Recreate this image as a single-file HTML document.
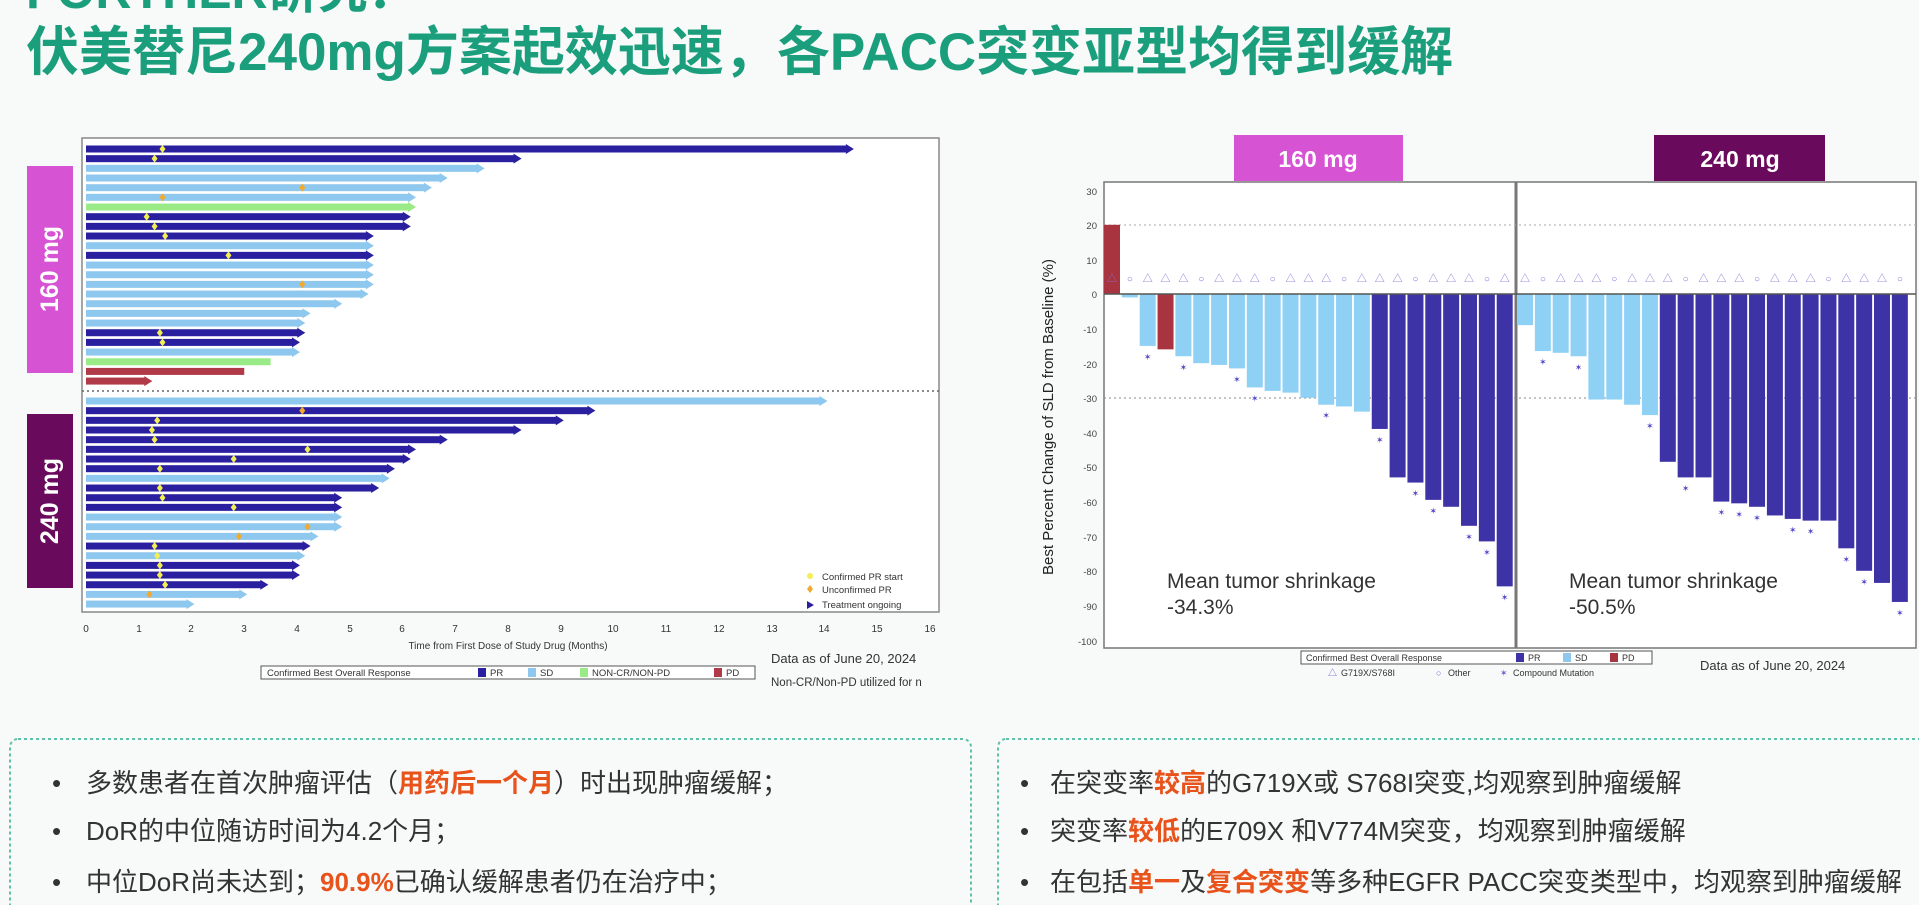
<!DOCTYPE html>
<html><head><meta charset="utf-8"><style>
body{margin:0;width:1919px;height:905px;overflow:hidden;background:#f8f9f9;font-family:"Liberation Sans","Noto Sans CJK SC",sans-serif;}
svg{position:absolute;left:0;top:0}
.t{font-family:"Liberation Sans","Noto Sans CJK SC",sans-serif}
</style></head><body>
<svg width="1919" height="905" viewBox="0 0 1919 905" xmlns="http://www.w3.org/2000/svg">
<text x="26" y="8" class="t" font-size="50" font-weight="bold" fill="#1a9e7c">FORTHER研究：</text>
<text x="26" y="70" class="t" font-size="53" font-weight="bold" fill="#1a9e7c">伏美替尼240mg方案起效迅速，各PACC突变亚型均得到缓解</text>

<!-- left chart -->
<rect x="82" y="138" width="857" height="474" fill="#fff" stroke="#888" stroke-width="1.5"/>
<rect x="27" y="166" width="46" height="207" fill="#d653d3"/>
<text transform="translate(58,269) rotate(-90)" text-anchor="middle" class="t" font-size="25" font-weight="bold" fill="#fff">160 mg</text>
<rect x="27" y="414" width="46" height="174" fill="#6a0a5c"/>
<text transform="translate(58,501) rotate(-90)" text-anchor="middle" class="t" font-size="25" font-weight="bold" fill="#fff">240 mg</text>
<line x1="82" y1="391" x2="939" y2="391" stroke="#666" stroke-dasharray="2,3" stroke-width="1.5"/>
<g id="lbars"></g>
<g font-size="10" fill="#333" class="t" text-anchor="middle">
<text x="86" y="632">0</text><text x="139" y="632">1</text><text x="191" y="632">2</text><text x="244" y="632">3</text><text x="297" y="632">4</text><text x="350" y="632">5</text><text x="402" y="632">6</text><text x="455" y="632">7</text><text x="508" y="632">8</text><text x="561" y="632">9</text><text x="613" y="632">10</text><text x="666" y="632">11</text><text x="719" y="632">12</text><text x="772" y="632">13</text><text x="824" y="632">14</text><text x="877" y="632">15</text><text x="930" y="632">16</text>
<text x="508" y="649">Time from First Dose of Study Drug (Months)</text>
</g>
<g font-size="9.5" fill="#333" class="t">
<circle cx="810" cy="576" r="3" fill="#f2ef55"/><text x="822" y="580">Confirmed PR start</text>
<path d="M810 585 l3 4 l-3 4 l-3 -4z" fill="#f2a92c"/><text x="822" y="593">Unconfirmed PR</text>
<path d="M807 601 l7 4 l-7 4z" fill="#2a1f9e"/><text x="822" y="608">Treatment ongoing</text>
</g>
<rect x="261" y="666" width="494" height="13" fill="#fff" stroke="#555"/>
<g font-size="9.5" fill="#333" class="t">
<text x="267" y="676">Confirmed Best Overall Response</text>
<rect x="478" y="668" width="8" height="9" fill="#2a1f9e"/><text x="490" y="676">PR</text>
<rect x="528" y="668" width="8" height="9" fill="#8fc8ee"/><text x="540" y="676">SD</text>
<rect x="580" y="668" width="8" height="9" fill="#9aeb88"/><text x="592" y="676">NON-CR/NON-PD</text>
<rect x="714" y="668" width="8" height="9" fill="#b03a48"/><text x="726" y="676">PD</text>
</g>
<text x="771" y="663" class="t" font-size="13" fill="#333">Data as of June 20, 2024</text>
<text x="771" y="686" class="t" font-size="11.5" fill="#333">Non-CR/Non-PD utilized for n</text>

<!-- right chart -->
<rect x="1234" y="135" width="169" height="46" fill="#d653d3"/>
<text x="1318" y="167" text-anchor="middle" class="t" font-size="23" font-weight="bold" fill="#fff">160 mg</text>
<rect x="1654" y="135" width="171" height="46" fill="#6a0a5c"/>
<text x="1740" y="167" text-anchor="middle" class="t" font-size="23" font-weight="bold" fill="#fff">240 mg</text>
<rect x="1104" y="182" width="812" height="466" fill="#fff" stroke="#777" stroke-width="1.5"/>
<line x1="1516" y1="182" x2="1516" y2="648" stroke="#777" stroke-width="3"/>
<line x1="1104" y1="225" x2="1916" y2="225" stroke="#aaa" stroke-dasharray="2,3"/>
<line x1="1104" y1="398" x2="1916" y2="398" stroke="#888" stroke-dasharray="2,3"/>
<g id="rbars"></g>
<line x1="1104" y1="294" x2="1916" y2="294" stroke="#555" stroke-width="1.5"/>
<g font-size="9.5" fill="#444" class="t" text-anchor="end">
<text x="1097" y="195">30</text><text x="1097" y="229">20</text><text x="1097" y="264">10</text><text x="1097" y="298">0</text><text x="1097" y="333">-10</text><text x="1097" y="368">-20</text><text x="1097" y="402">-30</text><text x="1097" y="437">-40</text><text x="1097" y="471">-50</text><text x="1097" y="506">-60</text><text x="1097" y="541">-70</text><text x="1097" y="575">-80</text><text x="1097" y="610">-90</text><text x="1097" y="645">-100</text>
</g>
<text transform="translate(1053,417) rotate(-90)" text-anchor="middle" class="t" font-size="15" fill="#222">Best Percent Change of SLD from Baseline (%)</text>
<text x="1167" y="588" class="t" font-size="21" fill="#333">Mean tumor shrinkage</text>
<text x="1167" y="614" class="t" font-size="21" fill="#333">-34.3%</text>
<text x="1569" y="588" class="t" font-size="21" fill="#333">Mean tumor shrinkage</text>
<text x="1569" y="614" class="t" font-size="21" fill="#333">-50.5%</text>
<rect x="1301" y="651" width="351" height="13" fill="#fff" stroke="#555"/>
<g font-size="9" fill="#333" class="t">
<text x="1306" y="661">Confirmed Best Overall Response</text>
<rect x="1516" y="653" width="8" height="9" fill="#3d32a6"/><text x="1528" y="661">PR</text>
<rect x="1563" y="653" width="8" height="9" fill="#8fc8ee"/><text x="1575" y="661">SD</text>
<rect x="1610" y="653" width="8" height="9" fill="#a83440"/><text x="1622" y="661">PD</text>
<text x="1328" y="676" fill="#6a5ccf">△</text><text x="1341" y="676">G719X/S768I</text>
<text x="1436" y="676" fill="#6a5ccf">○</text><text x="1448" y="676">Other</text>
<text x="1500" y="676" fill="#6a5ccf">✶</text><text x="1513" y="676">Compound Mutation</text>
</g>
<text x="1700" y="670" class="t" font-size="13" fill="#333">Data as of June 20, 2024</text>

<!-- bottom boxes -->
<rect x="10" y="739" width="961" height="200" rx="8" fill="none" stroke="#5fbfa8" stroke-width="2" stroke-dasharray="3,3"/>
<rect x="998" y="739" width="940" height="200" rx="8" fill="none" stroke="#5fbfa8" stroke-width="2" stroke-dasharray="3,3"/>
<g class="t" font-size="26" fill="#333">
<text x="52" y="792">•</text>
<text x="86" y="792">多数患者在首次肿瘤评估（<tspan fill="#e8531c" font-weight="bold">用药后一个月</tspan>）时出现肿瘤缓解；</text>
<text x="52" y="840">•</text>
<text x="86" y="840">DoR的中位随访时间为4.2个月；</text>
<text x="52" y="891">•</text>
<text x="86" y="891">中位DoR尚未达到；<tspan fill="#e8531c" font-weight="bold">90.9%</tspan>已确认缓解患者仍在治疗中；</text>
<text x="1020" y="792">•</text>
<text x="1050" y="792">在突变率<tspan fill="#e8531c" font-weight="bold">较高</tspan>的G719X或 S768I突变,均观察到肿瘤缓解</text>
<text x="1020" y="840">•</text>
<text x="1050" y="840">突变率<tspan fill="#e8531c" font-weight="bold">较低</tspan>的E709X 和V774M突变，均观察到肿瘤缓解</text>
<text x="1020" y="891">•</text>
<text x="1050" y="891">在包括<tspan fill="#e8531c" font-weight="bold">单一</tspan>及<tspan fill="#e8531c" font-weight="bold">复合突变</tspan>等多种EGFR PACC突变类型中，均观察到肿瘤缓解</text>
</g>
</svg>
<script>
var NS="http://www.w3.org/2000/svg";
function el(p,t,a){var e=document.createElementNS(NS,t);for(var k in a)e.setAttribute(k,a[k]);p.appendChild(e);return e;}
var C={P:"#2a1f9e",S:"#8fc8ee",G:"#9aeb88",R:"#b03a48"};
var L=document.getElementById("lbars");
var g160=[[14.5,"P",1.45,"y"],[8.2,"P",1.3,"y"],[7.5,"S"],[6.8,"S"],[6.5,"S",4.1,"o"],[6.2,"S",1.45,"o"],[6.2,"G"],[6.1,"P",1.15,"y"],[6.1,"P",1.3,"y"],[5.4,"P",1.5,"y"],[5.4,"S"],[5.4,"P",2.7,"y"],[5.4,"S"],[5.4,"S"],[5.4,"S",4.1,"o"],[5.3,"S"],[4.8,"S"],[4.2,"S"],[4.1,"S"],[4.1,"P",1.4,"y"],[4.0,"P",1.45,"y"],[4.0,"S"],[3.5,"G"],[3.0,"R"],[1.2,"R"]];
var g240=[[14.0,"S"],[9.6,"P",4.1,"o"],[9.0,"P",1.35,"y"],[8.2,"P",1.25,"y"],[6.8,"P",1.3,"y"],[6.2,"P",4.2,"y"],[6.1,"P",2.8,"y"],[5.8,"P",1.4,"y"],[5.7,"S"],[5.5,"P",1.4,"y"],[4.8,"P",1.45,"y"],[4.8,"P",2.8,"y"],[4.8,"S"],[4.8,"S",4.2,"o"],[4.35,"S",2.9,"o"],[4.2,"P",1.3,"y"],[4.1,"S",1.35,"y"],[4.0,"P",1.4,"y"],[4.0,"P",1.4,"y"],[3.4,"P",1.5,"y"],[3.0,"S",1.2,"o"],[2.0,"S"]];
function rows(arr,y0,dy){arr.forEach(function(r,i){var y=y0+i*dy,x0=86,x1=86+r[0]*52.75,c=C[r[1]];
 var noArrow=(r[1]=="G"&&i==22)||(r[1]=="R"&&i==23);
 el(L,"rect",{x:x0,y:y-3.5,width:x1-x0-(noArrow?0:4),height:7,fill:c});
 if(!noArrow)el(L,"path",{d:"M"+(x1-5)+" "+(y-5)+" L"+(x1+3)+" "+y+" L"+(x1-5)+" "+(y+5)+"z",fill:c});
 if(r[2]){var mx=86+r[2]*52.75;el(L,"path",{d:"M"+mx+" "+(y-4)+" l3 4 l-3 4 l-3 -4z",fill:r[3]=="y"?"#f2ef55":"#f2a92c"});}
});}
rows(g160,149,9.67);rows(g240,401,9.67);
var R=document.getElementById("rbars");
var RC={P:"#3d32a6",S:"#8fd0f5",D:"#a83440"};
var v160=[[20,"D"],[-1,"S"],[-15,"S",1],[-16,"D"],[-18,"S",1],[-20,"S"],[-20.5,"S"],[-21.5,"S",1],[-27,"S",1],[-28,"S"],[-28.5,"S"],[-30,"S"],[-32,"S",1],[-32.5,"S"],[-34,"S"],[-39,"P",1],[-53,"P"],[-54.5,"P",1],[-59.5,"P",1],[-61.5,"P"],[-67,"P",1],[-71.5,"P",1],[-84.5,"P",1]];
var v240=[[-9,"S"],[-16.5,"S",1],[-17,"S"],[-18,"S",1],[-30.5,"S"],[-30.5,"S"],[-32,"S"],[-35,"S",1],[-48.5,"P"],[-53,"P",1],[-53,"P"],[-60,"P",1],[-60.5,"P",1],[-61.5,"P",1],[-64,"P"],[-65,"P",1],[-65.5,"P",1],[-65.5,"P"],[-73.5,"P",1],[-80,"P",1],[-83.5,"P"],[-89,"P",1]];
function bars(arr,x0){arr.forEach(function(b,i){var x=x0+i*17.85,v=b[0],y0=294,y1=294-v*3.46;
 el(R,"rect",{x:x,y:Math.min(y0,y1),width:16,height:Math.abs(y1-y0),fill:RC[b[1]]});
 var cx=x+8;var t=el(R,"text",{x:cx,y:282,"text-anchor":"middle","font-size":"10",fill:"#7a70d6"});t.textContent=(i%4==1)?"○":"△";
 if(b[2]&&v<0){var s=el(R,"text",{x:cx,y:y1+14,"text-anchor":"middle","font-size":"9",fill:"#5046c8"});s.textContent="✶";}
});}
bars(v160,1104);bars(v240,1517);
</script>
</body></html>
